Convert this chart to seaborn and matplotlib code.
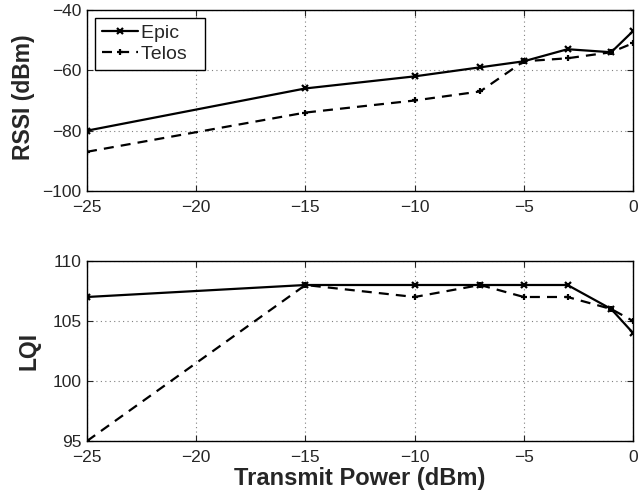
import pandas as pd
import seaborn as sns
import matplotlib.pyplot as plt

# Transmit power levels (dBm)
tx_power = [-25, -15, -10, -7, -5, -3, -1, 0]

# RSSI (dBm)
rssi_epic = [-80, -66, -62, -59, -57, -53, -54, -47]
rssi_telos = [-87, -74, -70, -67, -57, -56, -54, -51]

# LQI
lqi_epic = [107, 108, 108, 108, 108, 108, 106, 104]
lqi_telos = [95, 108, 107, 108, 107, 107, 106, 105]

devices = ["Epic", "Telos"]

sns.set_style("ticks")
plt.rcParams['font.family'] = ['Liberation Sans', 'DejaVu Sans']
plt.rcParams['axes.unicode_minus'] = True


def long_df(epic, telos):
    return pd.DataFrame({
        "tx": tx_power * 2,
        "val": list(epic) + list(telos),
        "device": ["Epic"] * len(epic) + ["Telos"] * len(telos),
    })


fig = plt.figure(figsize=(6.38, 4.93), dpi=100)
ax1 = fig.add_axes([0.1364, 0.6126, 0.8558, 0.3671])
ax2 = fig.add_axes([0.1364, 0.1055, 0.8558, 0.3651])

styles = dict(
    hue="device", style="device", hue_order=devices, style_order=devices,
    palette=["black", "black"],
    markers={"Epic": "x", "Telos": "+"}, dashes={"Epic": "", "Telos": (4.5, 3.2)},
    linewidth=1.6, markersize=5, markeredgewidth=1.6, markeredgecolor="black",
    legend=False,
)

sns.lineplot(data=long_df(rssi_epic, rssi_telos), x="tx", y="val", ax=ax1, **styles)
sns.lineplot(data=long_df(lqi_epic, lqi_telos), x="tx", y="val", ax=ax2, **styles)

for ax in (ax1, ax2):
    ax.set_xlim(-25, 0)
    ax.set_xticks([-25, -20, -15, -10, -5, 0])
    ax.grid(True, linestyle=(0, (1, 3)), color="gray", linewidth=0.8)
    ax.tick_params(direction="in", top=True, right=True, labelsize=12.5, length=4)
    ax.tick_params(axis="x", pad=6.5)
    ax.tick_params(axis="y", pad=4)
    for s in ax.spines.values():
        s.set_linewidth(1.0)
        s.set_color("black")
    ax.set_xlabel("")

ax1.set_ylim(-100, -40)
ax1.set_yticks([-100, -80, -60, -40])
ax1.set_ylabel("RSSI (dBm)", fontsize=16.5, fontweight="bold")
ax1.yaxis.set_label_coords(-0.095, 0.52)

ax2.set_ylim(95, 110)
ax2.set_yticks([95, 100, 105, 110])
ax2.set_ylabel("LQI", fontsize=16.5, fontweight="bold")
ax2.yaxis.set_label_coords(-0.085, 0.5)
ax2.set_xlabel("Transmit Power (dBm)", fontsize=17, fontweight="bold", labelpad=1.5)

leg = ax1.legend(ax1.get_lines()[:2], [d + "  " for d in devices], loc="upper left",
                 fontsize=14, frameon=True, fancybox=False, handlelength=1.85,
                 handletextpad=0.2, borderpad=0.35, labelspacing=0.15,
                 borderaxespad=0.4)
leg.get_frame().set_edgecolor("black")
leg.get_frame().set_linewidth(1.0)
leg.get_frame().set_alpha(1)

fig.savefig("out.png", dpi=100)
